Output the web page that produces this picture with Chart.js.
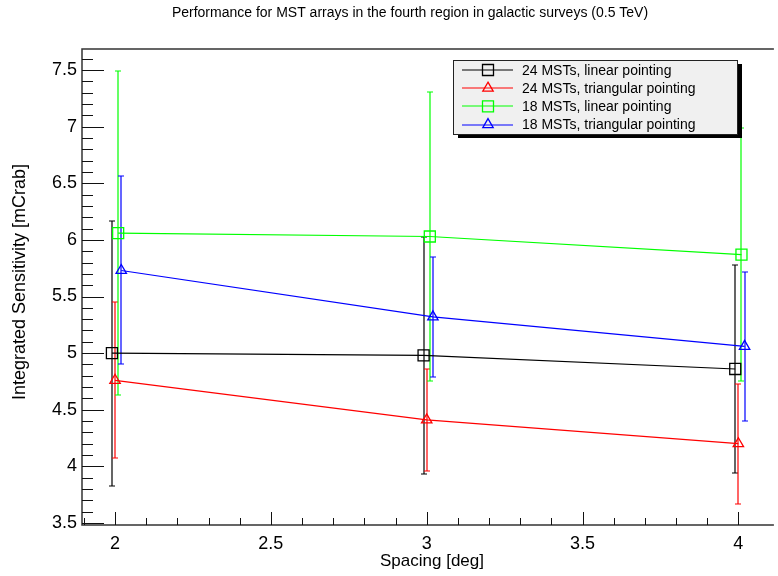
<!DOCTYPE html>
<html>
<head>
<meta charset="utf-8">
<script src="https://cdn.jsdelivr.net/npm/chart.js@4.4.0/dist/chart.umd.min.js"></script>
<style>
html, body { margin: 0; padding: 0; background: #fff; }
</style>
</head>
<body>
<canvas id="myChart" width="778" height="576"></canvas>
<script>
// data
const seriesLabels = ['24 MSTs, linear pointing', '24 MSTs, triangular pointing', '18 MSTs, linear pointing', '18 MSTs, triangular pointing'];
const seriesColors = ['#000000', '#ff0000', '#00ff00', '#0000ff'];
const seriesMarkers = ['rect', 'triangle', 'rect', 'triangle'];

// spacing values (each series slightly shifted so the error bars don't overlap)
const x24Linear = [1.99, 2.99, 3.99];
const x24Tri = [2.00, 3.00, 4.00];
const x18Linear = [2.01, 3.01, 4.01];
const x18Tri = [2.02, 3.02, 4.02];

const y24Linear = [5.00, 4.98, 4.86];
const y24Tri = [4.76, 4.41, 4.20];
const y18Linear = [6.06, 6.03, 5.87];
const y18Tri = [5.73, 5.32, 5.06];

const err24Linear = [1.17, 1.05, 0.92];
const err24Tri = [0.69, 0.45, 0.53];
const err18Linear = [1.43, 1.28, 1.12];
const err18Tri = [0.83, 0.53, 0.66];

const xTicks = [2, 2.5, 3, 3.5, 4];
const xTickLabels = ['2', '2.5', '3', '3.5', '4'];
const yTicks = [3.5, 4, 4.5, 5, 5.5, 6, 6.5, 7, 7.5];
const yTickLabels = ['3.5', '4', '4.5', '5', '5.5', '6', '6.5', '7', '7.5'];

const plotTitle = 'Performance for MST arrays in the fourth region in galactic surveys (0.5 TeV)';
const xTitle = 'Spacing [deg]';
const yTitle = 'Integrated Sensitivity [mCrab]';

const xs = [x24Linear, x24Tri, x18Linear, x18Tri];
const ys = [y24Linear, y24Tri, y18Linear, y18Tri];
const errs = [err24Linear, err24Tri, err18Linear, err18Tri];

const FONT = 'Liberation Sans, Arial, Helvetica, sans-serif';

const datasets = seriesLabels.map((lab, i) => ({
    label: lab,
    data: xs[i].map((v, j) => ({ x: v, y: ys[i][j] })),
    borderColor: seriesColors[i],
    backgroundColor: seriesColors[i],
    borderWidth: 1.2,
    tension: 0,
    pointStyle: seriesMarkers[i],
    pointRadius: seriesMarkers[i] === 'rect' ? 7.8 : 6,
    pointBorderWidth: 1.3,
    pointBorderColor: seriesColors[i],
    pointBackgroundColor: 'rgba(255,255,255,0)'
}));

function drawMarker(ctx, style, x, y, color) {
    ctx.save();
    ctx.strokeStyle = color;
    ctx.lineWidth = 1.3;
    ctx.beginPath();
    if (style === 'rect') {
        ctx.rect(x - 5.5, y - 5.5, 11, 11);
    } else {
        ctx.moveTo(x, y - 6);
        ctx.lineTo(x + 5.2, y + 3);
        ctx.lineTo(x - 5.2, y + 3);
        ctx.closePath();
    }
    ctx.stroke();
    ctx.restore();
}

const rootStyle = {
    id: 'rootStyle',
    beforeDatasetsDraw(chart) {
        const ctx = chart.ctx;
        const x = chart.scales.x, y = chart.scales.y;
        ctx.save();
        ctx.lineWidth = 1.2;
        chart.data.datasets.forEach((ds, i) => {
            ctx.strokeStyle = seriesColors[i];
            ds.data.forEach((p, j) => {
                const px = Math.round(x.getPixelForValue(p.x));
                const yTop = Math.round(y.getPixelForValue(p.y + errs[i][j]));
                const yBot = Math.round(y.getPixelForValue(p.y - errs[i][j]));
                ctx.beginPath();
                ctx.moveTo(px, yTop); ctx.lineTo(px, yBot);
                ctx.moveTo(px - 3, yTop); ctx.lineTo(px + 3, yTop);
                ctx.moveTo(px - 3, yBot); ctx.lineTo(px + 3, yBot);
                ctx.stroke();
            });
        });
        ctx.restore();
    },
    afterDraw(chart) {
        const ctx = chart.ctx;
        const x = chart.scales.x, y = chart.scales.y;
        const a = chart.chartArea;
        ctx.save();

        // frame (right side runs off the canvas)
        ctx.strokeStyle = '#333';
        ctx.lineWidth = 1.5;
        ctx.beginPath();
        ctx.moveTo(a.right + 5, a.top); ctx.lineTo(a.left, a.top);
        ctx.lineTo(a.left, a.bottom);
        ctx.lineTo(a.right + 5, a.bottom);
        ctx.stroke();

        // ticks (inside the frame, ROOT style)
        ctx.strokeStyle = '#111';
        ctx.lineWidth = 1;
        ctx.beginPath();
        for (let k = Math.ceil(x.min * 10); k <= Math.floor(x.max * 10); k++) {
            const px = Math.round(x.getPixelForValue(k / 10)) + 0.5;
            const len = (k % 5 === 0) ? 13 : 7;
            ctx.moveTo(px, a.bottom); ctx.lineTo(px, a.bottom - len);
        }
        for (let k = Math.ceil(y.min * 10); k <= Math.floor(y.max * 10); k++) {
            const py = Math.round(y.getPixelForValue(k / 10)) + 0.5;
            const len = (k % 5 === 0) ? 22 : 11;
            ctx.moveTo(a.left, py); ctx.lineTo(a.left + len, py);
        }
        ctx.stroke();

        // tick labels
        ctx.fillStyle = '#000';
        ctx.font = '18px ' + FONT;
        ctx.textAlign = 'center';
        ctx.textBaseline = 'middle';
        xTicks.forEach((v, i) => ctx.fillText(xTickLabels[i], x.getPixelForValue(v), a.bottom + 19));
        ctx.textAlign = 'right';
        yTicks.forEach((v, i) => ctx.fillText(yTickLabels[i], a.left - 5, y.getPixelForValue(v)));

        // axis titles
        ctx.textAlign = 'center';
        ctx.font = '17px ' + FONT;
        ctx.fillText(xTitle, 432, 561);
        ctx.save();
        ctx.translate(20, 282);
        ctx.rotate(-Math.PI / 2);
        ctx.font = '18px ' + FONT;
        ctx.fillText(yTitle, 0, 0);
        ctx.restore();

        // title
        ctx.font = '14px ' + FONT;
        ctx.fillText(plotTitle, 410, 13);

        // legend box with shadow
        const lx = 453, ly = 60, lw = 284, lh = 74;
        ctx.fillStyle = '#000';
        ctx.fillRect(lx + 5, ly + 4, lw, lh);
        ctx.fillStyle = '#f0f0f0';
        ctx.fillRect(lx, ly, lw, lh);
        ctx.strokeStyle = '#222';
        ctx.lineWidth = 1;
        ctx.strokeRect(lx + 0.5, ly + 0.5, lw, lh);
        ctx.font = '14px ' + FONT;
        ctx.textAlign = 'left';
        ctx.textBaseline = 'middle';
        chart.data.datasets.forEach((ds, i) => {
            const ry = ly + 10 + i * 18.2;
            ctx.strokeStyle = seriesColors[i];
            ctx.lineWidth = 1.2;
            ctx.beginPath();
            ctx.moveTo(462, Math.round(ry)); ctx.lineTo(513, Math.round(ry));
            ctx.stroke();
            drawMarker(ctx, seriesMarkers[i], 488, ry, seriesColors[i]);
            ctx.fillStyle = '#000';
            ctx.fillText(ds.label, 522, ry + 1);
        });

        ctx.restore();
    }
};

const ctx = document.getElementById('myChart').getContext('2d');
let myChart = new Chart(ctx, {
    type: 'line',
    data: { datasets: datasets },
    options: {
        responsive: false,
        animation: false,
        layout: { padding: { left: 82, top: 49, right: 0, bottom: 51 } },
        plugins: { legend: { display: false }, title: { display: false }, tooltip: { enabled: false } },
        scales: {
            x: { type: 'linear', min: 1.894, max: 4.098, display: false },
            y: { type: 'linear', min: 3.482, max: 7.686, display: false }
        }
    },
    plugins: [rootStyle]
});
</script>
</body>
</html>
